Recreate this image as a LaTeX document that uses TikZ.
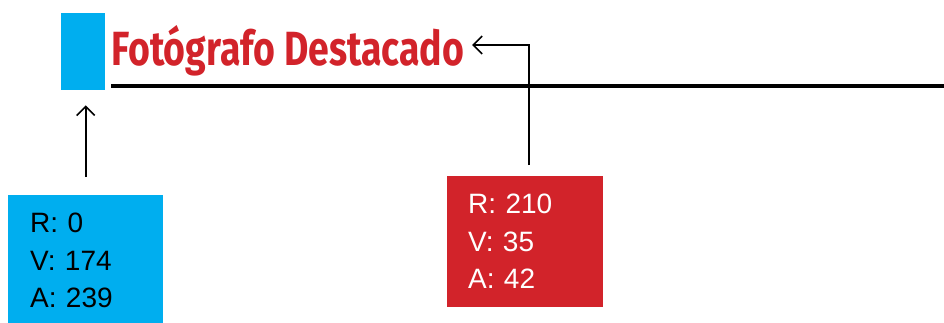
\documentclass[tikz,border=0pt]{standalone}
\usepackage{fontspec}
\setmainfont{Liberation Sans}
\newfontfamily\titlefont[FakeStretch=0.78]{Fira Sans}
\usetikzlibrary{arrows.meta}
\definecolor{cian}{RGB}{0,174,239}
\definecolor{rojo}{RGB}{210,35,42}

\begin{document}
\begin{tikzpicture}[x=1pt,y=1pt,
    caja/.style={anchor=north west, align=left, inner ysep=0pt,
      font=\fontsize{28}{37.5}\selectfont},
    flecha/.style={line width=1.6pt, -{Straight Barb[length=9pt,width=18pt]}}]
    \useasboundingbox (0,0) rectangle (944,322);
    % Muestra y titulo
    \node[fill=cian, minimum width=44pt, minimum height=77pt, inner sep=0pt,
      anchor=north west] (muestra) at (61,309) {};
    \node[anchor=base west, inner sep=0pt, text=rojo,
      font=\titlefont\bfseries\fontsize{48}{48}\selectfont] (titulo) at (111,257) {Fotógrafo Destacado};
    \draw[line width=4pt] (111,236) -- (944,236);
    % Cajas RGB
    \node[caja, fill=cian, inner xsep=22pt, text width=111pt,
      minimum height=131pt] (azul) at (8,127) {R: 0\\V: 174\\A: 239};
    \node[caja, fill=rojo, text=white, inner xsep=21pt, text width=114pt,
      minimum height=131pt] (rojo) at (447,146) {R: 210\\V: 35\\A: 42};
    % Flechas
    \coordinate (punta) at (472,277);
    \draw[flecha, shorten <=18pt, shorten >=15pt] (azul.north) -- (azul.north |- muestra.south);
    \draw[flecha] ([xshift=4pt,yshift=11pt]rojo.north) |- (punta);
\end{tikzpicture}
\end{document}
